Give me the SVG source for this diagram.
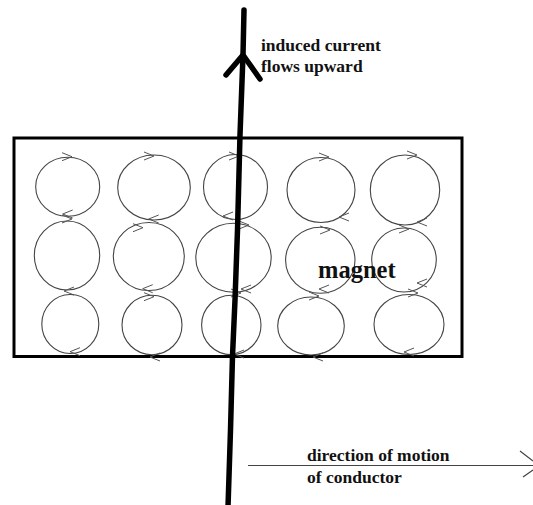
<svg xmlns="http://www.w3.org/2000/svg" width="533" height="505" viewBox="0 0 533 505">
<style>
.c{fill:none;stroke:#444;stroke-width:1.1}
.a{fill:none;stroke:#555;stroke-width:1}
.t{font-family:"Liberation Serif",serif;font-weight:700;font-size:17.500px;fill:#111}
.k{fill:none;stroke:#000;stroke-linecap:round;stroke-linejoin:round}
</style>
<defs>
<path id="r" class="a" d="M-6,-4 L4,0 L-6,4"/>
<path id="l" class="a" d="M6,-4 L-4,0 L6,4"/>
</defs>
<rect width="533" height="505" fill="#fff"/>
<rect id="magnet-box" x="14" y="138" width="448" height="218.500" fill="none" stroke="#000" stroke-width="3"/>
<g id="n1"><ellipse class="c" cx="67.700" cy="186.700" rx="32" ry="29.500"/><use href="#r" x="68" y="156.700"/><use href="#l" x="66.700" y="214"/></g>
<g id="n2"><ellipse class="c" cx="154" cy="187.500" rx="36.300" ry="32.500"/><use href="#r" x="150" y="156"/><use href="#l" x="152.700" y="219"/></g>
<g id="n3"><ellipse class="c" cx="235.500" cy="187" rx="32" ry="32.500"/><use href="#r" x="235" y="156"/><use href="#l" x="227" y="216"/></g>
<g id="n4"><ellipse class="c" cx="321" cy="190" rx="34" ry="32.500"/><use href="#r" x="325" y="157"/><use href="#l" x="343" y="217"/></g>
<g id="n5"><ellipse class="c" cx="405" cy="190" rx="34.700" ry="35"/><use href="#r" x="413" y="155"/><use href="#l" x="421" y="222"/></g>
<g id="n6"><ellipse class="c" cx="67" cy="255.500" rx="32.700" ry="34.500"/><use href="#r" x="68" y="219"/><use href="#l" x="68" y="291"/></g>
<g id="n7"><ellipse class="c" cx="148.800" cy="256.500" rx="35.500" ry="34"/><use href="#r" x="139" y="227.700"/><use href="#l" x="146.700" y="288.700"/></g>
<g id="n8"><ellipse class="c" cx="233.500" cy="257.800" rx="37.700" ry="34.500"/><use href="#r" x="245" y="225"/><use href="#l" x="245" y="289"/></g>
<g id="n9"><ellipse class="c" cx="320.300" cy="260.300" rx="34.700" ry="33"/><use href="#r" x="326" y="230"/><use href="#l" x="323" y="289"/></g>
<g id="n10"><ellipse class="c" cx="404" cy="260" rx="32.300" ry="32"/><use href="#r" x="405" y="229"/><use href="#l" x="421" y="283"/></g>
<g id="n11"><ellipse class="c" cx="70.300" cy="324" rx="28.500" ry="29.500"/><use href="#l" x="74" y="351.700"/></g>
<g id="n12"><ellipse class="c" cx="152" cy="325" rx="30" ry="29.700"/><use href="#r" x="150" y="296.700"/><use href="#l" x="154" y="357"/></g>
<g id="n13"><ellipse class="c" cx="231.300" cy="325" rx="29.700" ry="29.700"/><use href="#r" x="237" y="293"/><use href="#l" x="238" y="354"/></g>
<g id="n14"><ellipse class="c" cx="311" cy="326" rx="33.300" ry="29"/><use href="#r" x="315" y="296"/><use href="#l" x="317" y="357"/></g>
<g id="n15"><ellipse class="c" cx="409" cy="324.500" rx="35" ry="30"/><use href="#r" x="414" y="293"/><use href="#l" x="408" y="352"/></g>
<g id="connectors">
<path id="conductor" class="k" stroke-width="5.500" d="M244,10 L243,55 L240,135 L237.500,230 L235,300 L232.500,356 L230.500,430 L228,507"/>
<path id="conductor-head" class="k" stroke-width="5.500" d="M226,75 L243,55 L260,79"/>
<path id="motion" fill="none" stroke="#444" stroke-width="1.200" d="M248,465.500 H533 M520,451 L533,461 M523,477 L533,470"/>
</g>
<text class="t" x="261" y="50.500">induced current</text>
<text class="t" x="261" y="71.500">flows upward</text>
<text class="t" x="318" y="277.500" style="font-size:24.500px">magnet</text>
<text class="t" x="307" y="461">direction of motion</text>
<text class="t" x="307" y="483">of conductor</text>
</svg>
